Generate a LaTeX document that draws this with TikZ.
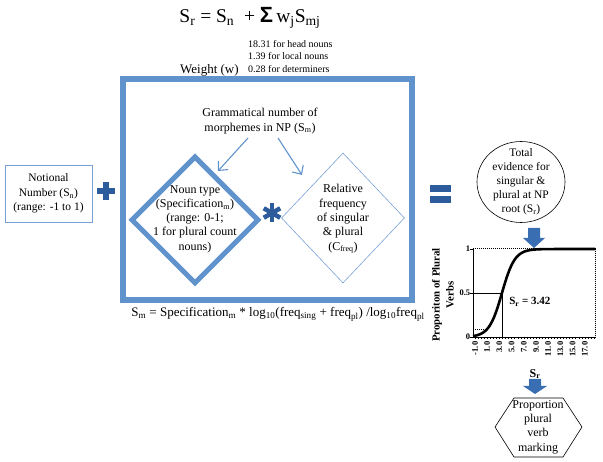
\documentclass[tikz,border=0pt]{standalone}
\usepackage{fontspec}
\setmainfont{Liberation Serif}
\setsansfont{Liberation Sans}
\usetikzlibrary{shapes.geometric,arrows.meta}
\definecolor{frameblue}{RGB}{96,146,204}
\definecolor{darkblue}{RGB}{44,92,156}
\definecolor{lightblue}{RGB}{120,160,214}
\definecolor{arrowblue}{RGB}{58,110,178}
\tikzset{
  txt/.style={align=center,inner sep=0pt,font=\fontsize{12}{14.3}\selectfont},
  thinarrow/.style={draw=frameblue,line width=1.1pt,-{Straight Barb[length=7pt,width=13pt]}},
  symb/.style={fill=darkblue,draw=none},
  blockarrow/.style={fill=arrowblue,draw=none},
  ticklab/.style={font=\bfseries\fontsize{8.5}{9}\selectfont,inner sep=1pt},
}
\begin{document}
\begin{tikzpicture}[x=1pt,y=-1pt]
\useasboundingbox (0,0) rectangle (603,462);

% top formula
\node[inner sep=0pt,anchor=center,font=\fontsize{19.5}{22}\selectfont] (formula) at (250,18)
  {S\textsubscript{r} = S\textsubscript{n} \ + {\sffamily\bfseries\fontsize{22}{22}\selectfont Σ}\,w\textsubscript{j}S\textsubscript{mj}};
\node[inner sep=0pt,anchor=north west,align=left,font=\fontsize{10}{12.5}\selectfont] (weights) at (248,40)
  {18.31 for head nouns\\1.39 for local nouns\\0.28 for determiners};
\node[inner sep=0pt,anchor=base west,font=\fontsize{13}{15}\selectfont] (weight) at (180,74) {Weight (w)};

% big frame
\node[draw=frameblue,line width=6pt,minimum width=289pt,minimum height=221pt,inner sep=0pt] (frame) at (267.5,189.5) {};

% notional number
\node[draw=lightblue,line width=0.8pt,minimum width=87pt,minimum height=57pt,inner sep=0pt] (notional) at (48.5,193.5) {};
\node[txt,font=\fontsize{11.5}{14.5}\selectfont] (notionaltxt) at (48.5,193.5)
  {Notional\\Number (S\textsubscript{n})\\(range: -1 to 1)};

% plus
\fill[symb] (97,188) rectangle (115,194);
\fill[symb] (103,182) rectangle (109,200);

% grammatical number text
\node[txt] (gn) at (260,121) {Grammatical number of\\morphemes in NP (S\textsubscript{m})};

% diamonds
\node[diamond,draw=frameblue,line width=5pt,minimum width=128pt,minimum height=128pt,inner sep=0pt] (noun) at (195,220) {};
\node[txt] (nountxt) at (195,219) {Noun type\\(Specification\textsubscript{m})\\(range: 0-1;\\1 for plural count\\nouns)};
\node[diamond,draw=lightblue,line width=0.6pt,minimum width=123pt,minimum height=130pt,inner sep=0pt] (freq) at (343,218) {};
\node[txt] (freqtxt) at (343,219) {Relative\\frequency\\of singular\\\& plural\\(C\textsubscript{freq})};

% arrows from text
\coordinate (gnl) at (248,138);
\coordinate (gnr) at (278,138);
\coordinate (nounin) at (218,171);
\coordinate (freqin) at (302,175);
\draw[thinarrow] (gnl) -- (nounin);
\draw[thinarrow] (gnr) -- (freqin);

% asterisk
\node[inner sep=0pt] (star) at (272,213) {};
\foreach \a in {90,30,150}{
  \draw[darkblue,line width=4.5pt] (star.center) ++(\a:-9.5) -- ++(\a:19);
}

% bottom formula
\node[inner sep=0pt,anchor=base,font=\fontsize{13}{15}\selectfont] (smformula) at (278,317)
  {S\textsubscript{m} = Specification\textsubscript{m} * log\textsubscript{10}(freq\textsubscript{sing} + freq\textsubscript{pl}) /log\textsubscript{10}freq\textsubscript{pl}};

% equals
\fill[symb] (430,185) rectangle (451,192);
\fill[symb] (430,196) rectangle (451,203);

% ellipse
\node[ellipse,draw=black,line width=0.6pt,minimum width=88pt,minimum height=81pt,inner sep=0pt] (total) at (521,182) {};
\node[txt,font=\fontsize{11.5}{14}\selectfont] (totaltxt) at (521,182)
  {Total\\evidence for\\singular \&\\plural at NP\\root (S\textsubscript{r})};

% block arrow 1
\fill[blockarrow] (528,228) -- (540,228) -- (540,238) -- (545,238) -- (534,248) -- (523,238) -- (528,238) -- cycle;

% chart
\begin{scope}[shift={(475,337)},x=6.1pt,y=88pt]
  \coordinate (o) at (-0.33,0);
  \draw[line width=0.6pt] (-0.33,0) -- (-0.33,1);
  \draw[line width=0.6pt] (-0.33,0) -- (19.75,0);
  \foreach \p in {0,0.5,1} \draw[line width=0.5pt] (-0.33,\p) -- ++(-3pt,0);
  \foreach \u in {0,0.5,...,19.5} \draw[line width=0.4pt] (\u,0) -- ++(0,-2.5pt);
  \draw[densely dotted,line width=1pt] (-0.33,1) -- (19.75,1) -- (19.75,0);
  \draw[densely dotted,line width=1pt] (-0.33,0.09) -- (1.65,0.09);
  \draw[line width=0.8pt] (-0.33,0.5) -- (4.42,0.5);
  \draw[line width=0.8pt] (4.42,0) -- (4.42,0.5);
  \draw[line width=2.6pt,domain=-0.33:19.7,samples=120,smooth] plot (\x,{1/(1+exp(-0.95*(\x-4.42)))});
  \node[ticklab,anchor=east] (y0) at (-0.6,0) {0};
  \node[ticklab,anchor=east] (y05) at (-0.6,0.5) {0.5};
  \node[ticklab,anchor=east] (y1) at (-0.6,1) {1};
  \foreach \v [count=\i from 0] in {-1.0,1.0,3.0,5.0,7.0,9.0,11.0,13.0,15.0,17.0}
    \node[ticklab,rotate=90,anchor=east] at (2*\i,-0.04) {\v};
  \node[font=\bfseries\fontsize{11}{12}\selectfont,anchor=west,inner sep=0pt] (srval) at (5.6,0.4) {S\textsubscript{r} = 3.42};
\end{scope}
\node[rotate=90,align=center,font=\bfseries\fontsize{10.8}{14}\selectfont,inner sep=0pt] (ylab) at (443,295) {Proporiton of Plural\\Verbs};

% S_r label
\node[font=\bfseries\fontsize{12}{14}\selectfont,inner sep=0pt] (srlab) at (535,374) {S\textsubscript{r}};
% block arrow 2
\fill[blockarrow] (529,379) -- (541,379) -- (541,386) -- (547,386) -- (535,394) -- (523,386) -- (529,386) -- cycle;

% hexagon
\coordinate (h1) at (495,427);
\coordinate (h2) at (514,398);
\coordinate (h3) at (563,398);
\coordinate (h4) at (582,427);
\coordinate (h5) at (563,457);
\coordinate (h6) at (514,457);
\draw[line width=0.6pt] (h1) -- (h2) -- (h3) -- (h4) -- (h5) -- (h6) -- cycle;
\node[txt] (hextxt) at (538,427) {Proportion\\plural\\verb\\marking};
\end{tikzpicture}
\end{document}
